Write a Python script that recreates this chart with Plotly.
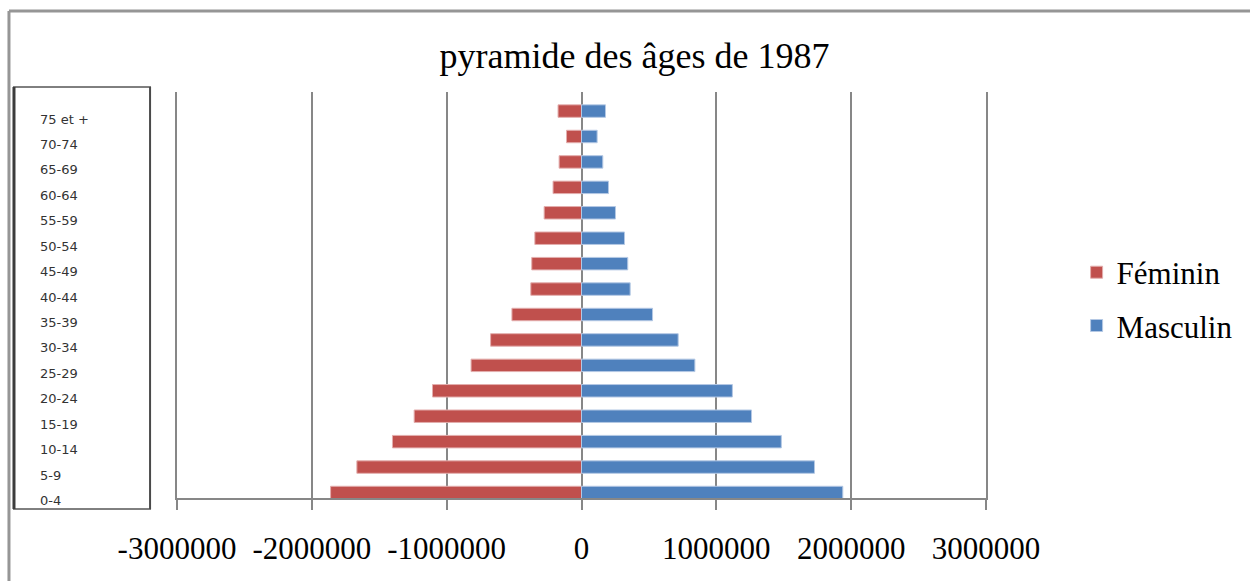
import plotly.graph_objects as go

categories = ["0-4", "5-9", "10-14", "15-19", "20-24", "25-29", "30-34", "35-39",
              "40-44", "45-49", "50-54", "55-59", "60-64", "65-69", "70-74", "75 et +"]
feminin = [1861000, 1666000, 1402000, 1241000, 1105000, 819000, 674000, 516000,
           376000, 369000, 346000, 277000, 211000, 166000, 111000, 174000]
masculin = [1938000, 1728000, 1482000, 1261000, 1119000, 841000, 717000, 527000,
            361000, 343000, 319000, 252000, 200000, 158000, 116000, 178000]
tick_vals = [-3000000, -2000000, -1000000, 0, 1000000, 2000000, 3000000]
tick_text = ["-3000000", "-2000000", "-1000000", "0", "1000000", "2000000", "3000000"]

RED = "#C0504D"
BLUE = "#4F81BD"
GRID = "#878787"
SERIF = "Liberation Serif, Times New Roman, serif"

fig = go.Figure()
fig.add_trace(go.Bar(
    y=categories, x=[-v for v in feminin], orientation="h", name="Féminin",
    marker=dict(color=RED, line=dict(color="#E3AEAD", width=1)),
    width=0.49, legendgroup="f",
))
fig.add_trace(go.Bar(
    y=categories, x=masculin, orientation="h", name="Masculin",
    marker=dict(color=BLUE, line=dict(color="#B4C8E4", width=1)),
    width=0.49, legendgroup="m",
))

annotations = []
for c in categories:
    annotations.append(dict(
        x=-0.1718, xref="paper", y=c, yref="y", yshift=-8,
        text=c, showarrow=False, xanchor="left", yanchor="middle",
        font=dict(family="DejaVu Sans, Verdana, sans-serif", size=13, color="#333333"),
    ))

shapes = [
    # outer frame
    dict(type="line", xref="paper", yref="paper", x0=-0.2077, x1=1.33, y0=1.1995, y1=1.1995,
         line=dict(color="#969696", width=3)),
    dict(type="line", xref="paper", yref="paper", x0=-0.2077, x1=-0.2077, y0=1.1995, y1=-0.21,
         line=dict(color="#969696", width=3)),
    # category label panel
    dict(type="line", xref="paper", yref="paper", x0=-0.2027, x1=-0.0321, y0=1.0123, y1=1.0123,
         line=dict(color="#000000", width=1)),
    dict(type="line", xref="paper", yref="paper", x0=-0.2027, x1=-0.0321, y0=-0.0271, y1=-0.0271,
         line=dict(color="#000000", width=1)),
    dict(type="line", xref="paper", yref="paper", x0=-0.2015, x1=-0.2015, y0=1.0123, y1=-0.0271,
         line=dict(color="#3c3c3c", width=3)),
    dict(type="line", xref="paper", yref="paper", x0=-0.0333, x1=-0.0333, y0=1.0123, y1=-0.0271,
         line=dict(color="#4a4a4a", width=2)),
]

fig.update_layout(
    width=1250, height=581,
    margin=dict(l=177, r=264, t=92, b=83),
    paper_bgcolor="white", plot_bgcolor="white",
    barmode="relative",
    title=dict(text="pyramide des âges de 1987", x=0.5076, xref="container", xanchor="center",
               y=0.905, yref="container", yanchor="middle",
               font=dict(family=SERIF, size=36, color="#000000")),
    xaxis=dict(range=[-3000000, 3000000], tickvals=tick_vals, ticktext=tick_text,
               showgrid=True, gridcolor=GRID, gridwidth=2,
               zeroline=True, zerolinecolor=GRID, zerolinewidth=2,
               showline=True, linecolor=GRID, linewidth=2,
               ticks="outside", ticklen=10, tickcolor=GRID, tickwidth=2,
               ticklabelstandoff=12,
               tickfont=dict(family=SERIF, size=31, color="#000000")),
    yaxis=dict(range=[-0.216, 15.75], showticklabels=False, showgrid=False,
               zeroline=False, showline=True, mirror=True, linecolor=GRID, linewidth=2,
               ticks=""),
    legend=dict(x=1.112, xanchor="left", y=0.49, yanchor="middle",
                traceorder="grouped", tracegroupgap=10,
                bgcolor="rgba(0,0,0,0)",
                font=dict(family=SERIF, size=31, color="#000000")),
    annotations=annotations,
    shapes=shapes,
    showlegend=True,
)

fig.write_html("out.html", config={"displayModeBar": False},
               post_script="document.body.style.margin='0px';")
